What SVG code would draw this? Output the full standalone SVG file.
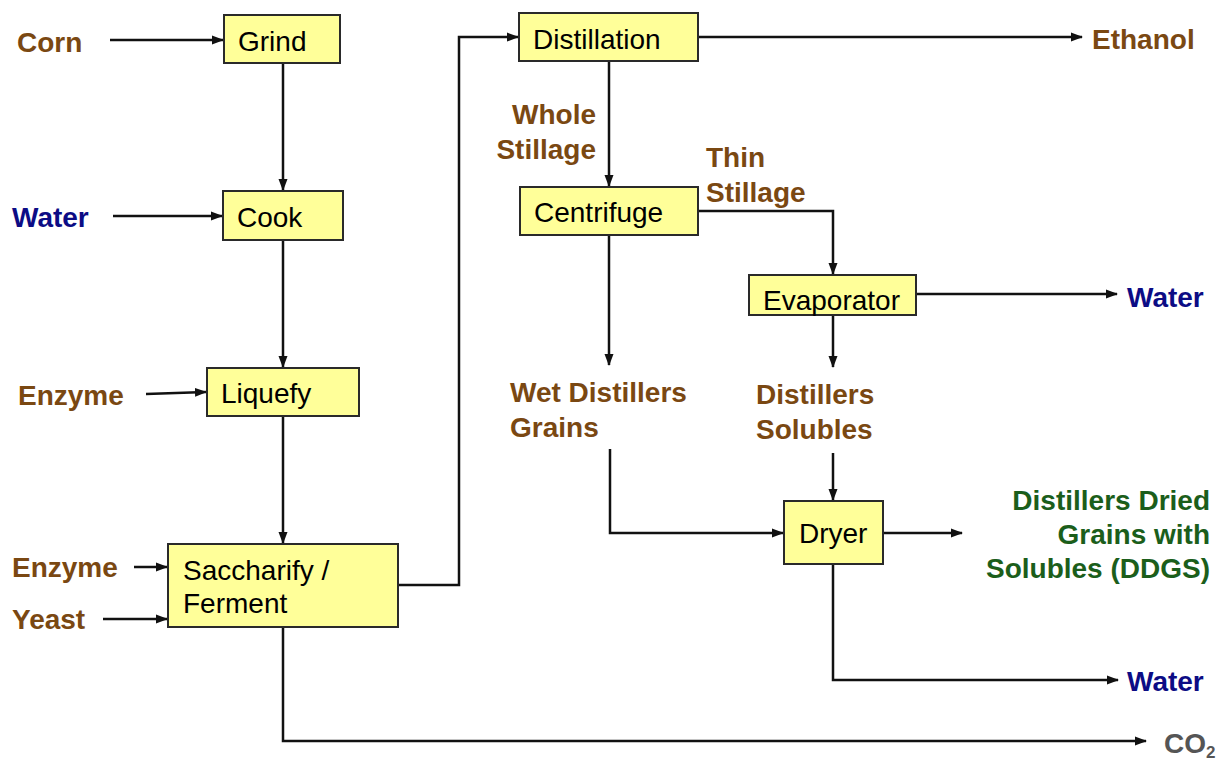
<svg xmlns="http://www.w3.org/2000/svg" width="1232" height="761" viewBox="0 0 1232 761">
<style>
.box{fill:#ffff99;stroke:#2a2a2a;stroke-width:2}
.nt{font-family:"Liberation Sans",Arial,sans-serif;font-size:28px;fill:#000}
.lb{font-family:"Liberation Sans",Arial,sans-serif;font-size:28px;font-weight:bold}
.br{fill:#7a4812}
.bl{fill:#0c0c85}
.gr{fill:#1b5e1b}
.gy{fill:#555}
.c{fill:none;stroke:#111;stroke-width:2.5}
</style>
<defs>
<marker id="ah" markerWidth="12" markerHeight="10" refX="11" refY="5" orient="auto" markerUnits="userSpaceOnUse">
<path d="M0,0.5 L12,5 L0,9.5 Z" fill="#111"/>
</marker>
</defs>
<rect width="1232" height="761" fill="#fff"/>
<g id="connectors">
<path class="c" d="M110,40 H223" marker-end="url(#ah)"/>
<path class="c" d="M113,216 H222" marker-end="url(#ah)"/>
<path class="c" d="M146,394 L206,392" marker-end="url(#ah)"/>
<path class="c" d="M134,567 H167" marker-end="url(#ah)"/>
<path class="c" d="M103,619 H167" marker-end="url(#ah)"/>
<path class="c" d="M283,63 V190" marker-end="url(#ah)"/>
<path class="c" d="M283,240 V367" marker-end="url(#ah)"/>
<path class="c" d="M283,416 V543" marker-end="url(#ah)"/>
<path class="c" d="M398,585 H459 V37 H518" marker-end="url(#ah)"/>
<path class="c" d="M283,627 V741 H1146" marker-end="url(#ah)"/>
<path class="c" d="M698,37 H1082" marker-end="url(#ah)"/>
<path class="c" d="M609,61 V186" marker-end="url(#ah)"/>
<path class="c" d="M698,211 H833 V274" marker-end="url(#ah)"/>
<path class="c" d="M609,235 V365" marker-end="url(#ah)"/>
<path class="c" d="M916,294 H1117" marker-end="url(#ah)"/>
<path class="c" d="M833,316 V367" marker-end="url(#ah)"/>
<path class="c" d="M833,453 V500" marker-end="url(#ah)"/>
<path class="c" d="M610,449 V533 H783" marker-end="url(#ah)"/>
<path class="c" d="M883,533 H962" marker-end="url(#ah)"/>
<path class="c" d="M833,564 V680 H1118" marker-end="url(#ah)"/>
</g>
<g id="grind"><rect class="box" x="224" y="15" width="116" height="48"/><text class="nt" x="238" y="51">Grind</text></g>
<g id="cook"><rect class="box" x="223" y="191" width="120" height="49"/><text class="nt" x="237" y="227">Cook</text></g>
<g id="liquefy"><rect class="box" x="207" y="368" width="152" height="48"/><text class="nt" x="221" y="403">Liquefy</text></g>
<g id="saccharify"><rect class="box" x="168" y="544" width="230" height="83"/><text class="nt" x="183" y="580">Saccharify /</text><text class="nt" x="183" y="613">Ferment</text></g>
<g id="distillation"><rect class="box" x="519" y="13" width="179" height="48"/><text class="nt" x="533" y="49">Distillation</text></g>
<g id="centrifuge"><rect class="box" x="520" y="187" width="178" height="48"/><text class="nt" x="534" y="222">Centrifuge</text></g>
<g id="evaporator"><rect class="box" x="749" y="275" width="167" height="40"/><text class="nt" x="763" y="310">Evaporator</text></g>
<g id="dryer"><rect class="box" x="784" y="501" width="99" height="63"/><text class="nt" x="799" y="543">Dryer</text></g>
<g id="labels">
<text class="lb br" x="17" y="52">Corn</text>
<text class="lb bl" x="12" y="227">Water</text>
<text class="lb br" x="18" y="405">Enzyme</text>
<text class="lb br" x="12" y="577">Enzyme</text>
<text class="lb br" x="12" y="629">Yeast</text>
<text class="lb br" x="596" y="124" text-anchor="end">Whole</text>
<text class="lb br" x="596" y="159" text-anchor="end">Stillage</text>
<text class="lb br" x="706" y="167">Thin</text>
<text class="lb br" x="706" y="202">Stillage</text>
<text class="lb br" x="1092" y="49">Ethanol</text>
<text class="lb bl" x="1127" y="307">Water</text>
<text class="lb br" x="510" y="402">Wet Distillers</text>
<text class="lb br" x="510" y="437">Grains</text>
<text class="lb br" x="756" y="404">Distillers</text>
<text class="lb br" x="756" y="439">Solubles</text>
<text class="lb gr" x="1210" y="510" text-anchor="end">Distillers Dried</text>
<text class="lb gr" x="1210" y="544" text-anchor="end">Grains with</text>
<text class="lb gr" x="1210" y="578" text-anchor="end">Solubles (DDGS)</text>
<text class="lb bl" x="1127" y="691">Water</text>
<text class="lb gy" x="1164" y="753">CO<tspan font-size="17" dy="5">2</tspan></text>
</g>
</svg>
